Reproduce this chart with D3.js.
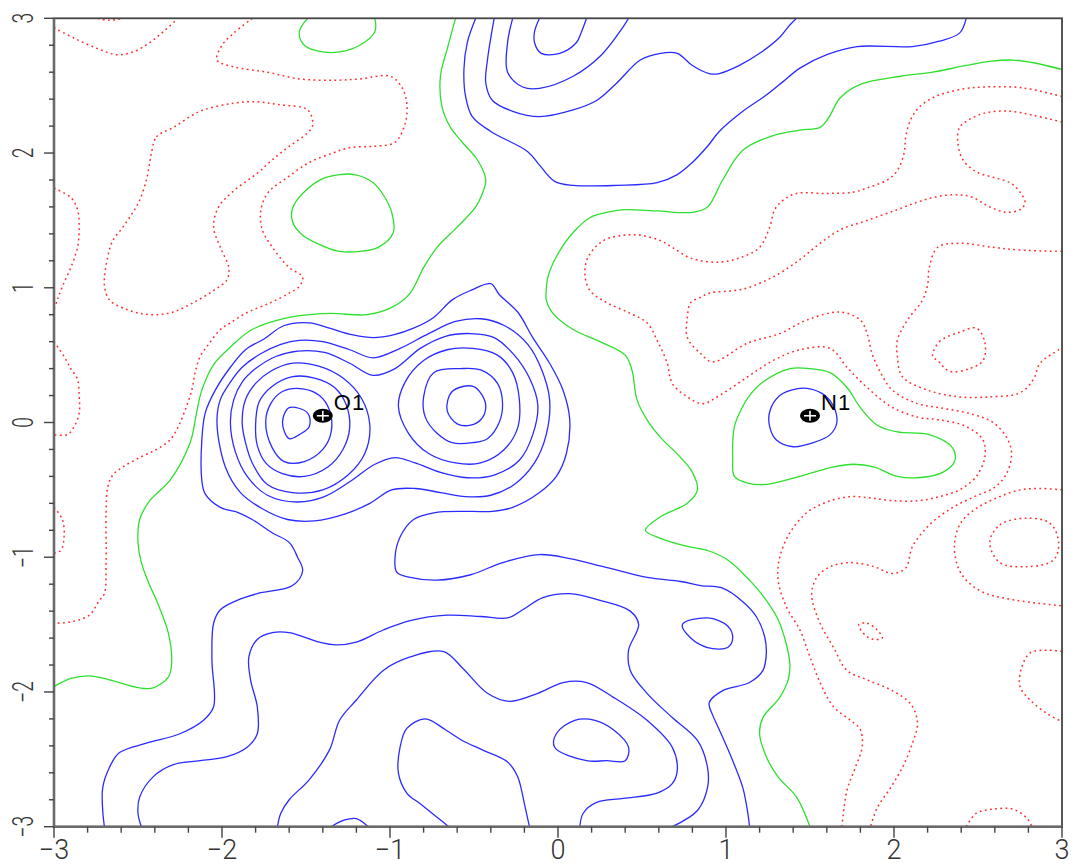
<!DOCTYPE html>
<html>
<head>
<meta charset="utf-8">
<script src="https://cdn.jsdelivr.net/npm/d3@7"></script>
<style>
  html, body { margin: 0; padding: 0; background: #fff; }
  svg { display: block; }
  .pos  { fill: none; stroke: #2b2bff; stroke-width: 1.3; }
  .zero { fill: none; stroke: #2ee02e; stroke-width: 1.3; }
  .neg  { fill: none; stroke: #ff2a2a; stroke-width: 1.5; stroke-dasharray: 1.8 3.4; }
  .tick { stroke: #444; stroke-width: 1.4; }
  .ticklabel { font-family: Roboto, "Liberation Sans", Arial, sans-serif; font-weight: 300; font-size: 27px; fill: #333; }
  .ylabel { font-size: 29px; }
  .atomlabel { font-family: "Liberation Sans", Arial, sans-serif; font-size: 22px; fill: #000; letter-spacing: 1px; }
</style>
</head>
<body>
<svg id="chart" width="1074" height="866"></svg>
<script>
// Difference-density map around O1 and N1 (axes in Å).
// Each contour is a list of [x, y] points; loops are closed, the others end on the frame.

// Positive density (solid blue)
const positiveOpen = [
  [[-0.11,3.0],[-0.14,2.90],[-0.14,2.82],[-0.10,2.74],[0.01,2.74],[0.11,2.82],[0.14,2.90],[0.17,3.0]],
  [[-0.27,3.0],[-0.30,2.82],[-0.30,2.60],[-0.21,2.49],[-0.11,2.48],[0.09,2.57],[0.26,2.73],[0.39,2.94],[0.42,3.0]],
  [[-0.38,3.0],[-0.42,2.69],[-0.43,2.52],[-0.39,2.39],[-0.27,2.31],[-0.11,2.27],[0.09,2.32],[0.23,2.39],[0.35,2.52],[0.49,2.69],[0.61,2.74],[0.71,2.74],[0.80,2.65],[0.90,2.59],[0.96,2.59],[1.08,2.65],[1.20,2.74],[1.32,2.86],[1.38,2.95],[1.42,3.0]],
  [[-0.49,3.0],[-0.54,2.82],[-0.56,2.62],[-0.55,2.42],[-0.51,2.27],[-0.40,2.16],[-0.18,2.01],[-0.11,1.91],[-0.02,1.79],[0.09,1.76],[0.35,1.76],[0.59,1.78],[0.71,1.84],[0.80,1.93],[0.89,2.05],[0.96,2.16],[1.10,2.31],[1.24,2.43],[1.34,2.53],[1.44,2.63],[1.60,2.73],[1.78,2.79],[2.11,2.79],[2.27,2.83],[2.39,2.89],[2.43,3.0]],
  [[-2.70,-3.0],[-2.71,-2.88],[-2.71,-2.71],[-2.67,-2.56],[-2.61,-2.45],[-2.45,-2.38],[-2.25,-2.31],[-2.11,-2.21],[-2.05,-2.11],[-2.06,-1.76],[-2.05,-1.49],[-2.01,-1.39],[-1.91,-1.32],[-1.79,-1.27],[-1.58,-1.21],[-1.52,-1.10],[-1.55,-1.0],[-1.60,-0.89],[-1.70,-0.82],[-1.82,-0.72],[-1.90,-0.67],[-2.01,-0.63],[-2.10,-0.53],[-2.12,-0.43],[-2.12,-0.13],[-2.10,0.07],[-2.04,0.24],[-1.95,0.41],[-1.86,0.54],[-1.75,0.62],[-1.63,0.72],[-1.48,0.74],[-1.36,0.70],[-1.22,0.65],[-1.10,0.63],[-0.98,0.65],[-0.86,0.70],[-0.74,0.78],[-0.63,0.91],[-0.52,0.98],[-0.40,1.03],[-0.35,0.95],[-0.24,0.82],[-0.15,0.63],[-0.05,0.44],[0.03,0.24],[0.07,0.02],[0.05,-0.23],[-0.01,-0.40],[-0.11,-0.52],[-0.27,-0.63],[-0.39,-0.66],[-0.52,-0.66],[-0.74,-0.67],[-0.86,-0.72],[-0.94,-0.85],[-0.97,-1.0],[-0.96,-1.11],[-0.88,-1.15],[-0.72,-1.17],[-0.52,-1.13],[-0.33,-1.04],[-0.11,-0.98],[0.07,-1.01],[0.27,-1.07],[0.53,-1.15],[0.73,-1.18],[0.85,-1.21],[0.98,-1.23],[1.10,-1.33],[1.18,-1.44],[1.23,-1.59],[1.24,-1.71],[1.22,-1.84],[1.14,-1.93],[0.98,-1.99],[0.90,-2.08],[0.92,-2.17],[0.96,-2.28],[1.04,-2.51],[1.10,-2.71],[1.13,-2.90],[1.14,-3.0]],
  [[-2.48,-3.0],[-2.50,-2.90],[-2.49,-2.78],[-2.41,-2.63],[-2.29,-2.54],[-2.13,-2.51],[-1.97,-2.48],[-1.85,-2.41],[-1.79,-2.31],[-1.79,-2.11],[-1.83,-1.91],[-1.84,-1.74],[-1.79,-1.61],[-1.70,-1.56],[-1.60,-1.56],[-1.42,-1.63],[-1.32,-1.65],[-1.20,-1.63],[-1.04,-1.54],[-0.88,-1.47],[-0.66,-1.43],[-0.46,-1.44],[-0.30,-1.45],[-0.21,-1.39],[-0.09,-1.30],[0.07,-1.27],[0.25,-1.32],[0.43,-1.40],[0.48,-1.50],[0.42,-1.69],[0.43,-1.84],[0.53,-2.01],[0.68,-2.19],[0.83,-2.36],[0.89,-2.56],[0.89,-2.71],[0.83,-2.88],[0.68,-3.0]],
  [[-1.67,-3.0],[-1.65,-2.90],[-1.60,-2.80],[-1.48,-2.65],[-1.36,-2.43],[-1.30,-2.21],[-1.20,-2.06],[-1.04,-1.84],[-0.88,-1.74],[-0.68,-1.70],[-0.57,-1.82],[-0.42,-2.01],[-0.29,-2.07],[-0.12,-2.01],[0.03,-1.93],[0.17,-1.93],[0.33,-2.04],[0.53,-2.21],[0.68,-2.41],[0.71,-2.58],[0.68,-2.68],[0.59,-2.75],[0.39,-2.79],[0.23,-2.82],[0.15,-2.90],[0.13,-3.0]],
  [[-1.35,-3.0],[-1.27,-2.95],[-1.20,-2.94],[-1.13,-3.0]],
  [[-0.65,-3.0],[-0.72,-2.93],[-0.82,-2.83],[-0.90,-2.75],[-0.95,-2.60],[-0.94,-2.41],[-0.90,-2.27],[-0.79,-2.20],[-0.67,-2.28],[-0.57,-2.36],[-0.45,-2.43],[-0.30,-2.52],[-0.24,-2.63],[-0.20,-2.83],[-0.17,-3.0]]
];
const positiveLoops = [
  // shells enclosing both peaks next to O1
  [[-2.03,0.0],[-2.01,0.17],[-1.95,0.30],[-1.88,0.41],[-1.77,0.51],[-1.65,0.58],[-1.54,0.61],[-1.40,0.60],[-1.24,0.54],[-1.10,0.48],[-0.94,0.55],[-0.77,0.66],[-0.61,0.75],[-0.46,0.77],[-0.32,0.72],[-0.18,0.58],[-0.10,0.40],[-0.05,0.17],[-0.07,-0.09],[-0.14,-0.30],[-0.26,-0.46],[-0.40,-0.54],[-0.55,-0.55],[-0.70,-0.52],[-0.85,-0.49],[-0.99,-0.50],[-1.12,-0.60],[-1.27,-0.68],[-1.45,-0.73],[-1.61,-0.72],[-1.76,-0.64],[-1.89,-0.52],[-1.98,-0.33]],
  [[-1.95,0.0],[-1.93,0.17],[-1.88,0.30],[-1.80,0.40],[-1.68,0.49],[-1.55,0.53],[-1.39,0.52],[-1.24,0.44],[-1.10,0.35],[-0.97,0.40],[-0.82,0.55],[-0.67,0.64],[-0.52,0.66],[-0.38,0.63],[-0.26,0.50],[-0.17,0.33],[-0.12,0.13],[-0.15,-0.09],[-0.23,-0.28],[-0.38,-0.39],[-0.54,-0.41],[-0.70,-0.37],[-0.85,-0.30],[-0.97,-0.26],[-1.09,-0.31],[-1.24,-0.44],[-1.39,-0.55],[-1.55,-0.59],[-1.73,-0.54],[-1.85,-0.40],[-1.92,-0.22]],
  // O1 peak
  [[-1.88,0.0],[-1.86,0.17],[-1.80,0.29],[-1.71,0.38],[-1.58,0.44],[-1.43,0.42],[-1.28,0.33],[-1.17,0.18],[-1.12,-0.02],[-1.15,-0.23],[-1.25,-0.39],[-1.40,-0.50],[-1.58,-0.52],[-1.73,-0.46],[-1.82,-0.30],[-1.86,-0.15]],
  [[-1.80,-0.02],[-1.78,0.15],[-1.71,0.26],[-1.58,0.34],[-1.45,0.33],[-1.33,0.26],[-1.26,0.13],[-1.24,-0.04],[-1.28,-0.20],[-1.37,-0.33],[-1.51,-0.40],[-1.64,-0.38],[-1.74,-0.30],[-1.79,-0.17]],
  [[-1.74,0.0],[-1.71,0.14],[-1.64,0.23],[-1.52,0.25],[-1.42,0.20],[-1.36,0.09],[-1.35,-0.07],[-1.40,-0.20],[-1.51,-0.29],[-1.63,-0.29],[-1.70,-0.19]],
  [[-1.64,0.0],[-1.60,0.11],[-1.49,0.07],[-1.48,-0.03],[-1.54,-0.09],[-1.60,-0.12]],
  // second peak
  [[-0.95,0.12],[-0.91,0.30],[-0.80,0.46],[-0.66,0.54],[-0.51,0.55],[-0.36,0.50],[-0.27,0.37],[-0.23,0.17],[-0.24,-0.04],[-0.32,-0.20],[-0.46,-0.30],[-0.61,-0.30],[-0.77,-0.23],[-0.89,-0.08]],
  [[-0.80,0.19],[-0.74,0.37],[-0.58,0.40],[-0.46,0.39],[-0.36,0.29],[-0.33,0.14],[-0.35,0.0],[-0.42,-0.12],[-0.51,-0.15],[-0.63,-0.15],[-0.72,-0.08],[-0.79,0.04]],
  [[-0.66,0.09],[-0.63,0.23],[-0.51,0.27],[-0.45,0.20],[-0.43,0.11],[-0.46,0.02],[-0.52,-0.02],[-0.60,-0.01]],
  // N1
  [[1.26,0.08],[1.32,0.20],[1.42,0.25],[1.50,0.25],[1.59,0.20],[1.64,0.12],[1.66,0.0],[1.62,-0.09],[1.52,-0.15],[1.40,-0.18],[1.30,-0.13],[1.26,-0.03]],
  // small islands below
  [[-0.01,-2.31],[0.10,-2.21],[0.22,-2.21],[0.33,-2.28],[0.42,-2.41],[0.40,-2.51],[0.29,-2.51],[0.17,-2.51],[-0.02,-2.41]],
  [[0.74,-1.50],[0.89,-1.45],[1.01,-1.51],[1.04,-1.60],[1.01,-1.67],[0.89,-1.67],[0.79,-1.60]]
];

// Zero level (solid green)
const zeroOpen = [
  [[-1.49,3.0],[-1.54,2.90],[-1.51,2.80],[-1.40,2.75],[-1.30,2.75],[-1.18,2.80],[-1.09,2.90],[-1.09,3.0]],
  [[-0.61,3.0],[-0.66,2.77],[-0.70,2.57],[-0.69,2.34],[-0.64,2.19],[-0.57,2.08],[-0.48,1.95],[-0.43,1.80],[-0.45,1.70],[-0.49,1.60],[-0.60,1.45],[-0.72,1.30],[-0.80,1.15],[-0.88,0.96],[-0.98,0.86],[-1.14,0.80],[-1.36,0.81],[-1.60,0.78],[-1.82,0.69],[-1.95,0.56],[-2.05,0.43],[-2.12,0.24],[-2.15,0.08],[-2.19,-0.15],[-2.31,-0.43],[-2.43,-0.58],[-2.49,-0.72],[-2.50,-0.89],[-2.48,-1.04],[-2.43,-1.21],[-2.39,-1.32],[-2.32,-1.56],[-2.30,-1.79],[-2.32,-1.89],[-2.41,-1.97],[-2.49,-1.97],[-2.67,-1.91],[-2.79,-1.88],[-2.90,-1.90],[-3.0,-1.96]],
  [[3.0,2.62],[2.83,2.67],[2.71,2.69],[2.57,2.68],[2.43,2.65],[2.23,2.60],[2.04,2.57],[1.80,2.51],[1.68,2.41],[1.61,2.26],[1.56,2.19],[1.44,2.17],[1.28,2.13],[1.10,2.02],[0.98,1.80],[0.89,1.60],[0.80,1.56],[0.59,1.57],[0.39,1.58],[0.29,1.56],[0.19,1.52],[0.09,1.41],[-0.01,1.23],[-0.06,1.08],[-0.07,0.98],[-0.07,0.91],[-0.03,0.81],[0.09,0.69],[0.25,0.60],[0.40,0.50],[0.44,0.39],[0.47,0.17],[0.53,0.02],[0.61,-0.11],[0.73,-0.26],[0.80,-0.37],[0.83,-0.50],[0.77,-0.60],[0.61,-0.70],[0.52,-0.80],[0.61,-0.86],[0.77,-0.92],[0.89,-0.95],[1.01,-1.02],[1.14,-1.17],[1.24,-1.32],[1.32,-1.49],[1.38,-1.79],[1.37,-1.91],[1.32,-2.04],[1.22,-2.19],[1.20,-2.31],[1.24,-2.48],[1.31,-2.63],[1.42,-2.78],[1.50,-3.0]]
];
const zeroLoops = [
  [[-1.30,1.84],[-1.21,1.84],[-1.10,1.78],[-1.03,1.67],[-0.99,1.56],[-0.98,1.41],[-1.07,1.30],[-1.18,1.27],[-1.30,1.27],[-1.38,1.30],[-1.52,1.39],[-1.58,1.49],[-1.58,1.59],[-1.52,1.70],[-1.40,1.81]],
  [[1.22,0.30],[1.38,0.40],[1.50,0.40],[1.62,0.37],[1.72,0.26],[1.80,0.11],[1.90,-0.02],[2.02,-0.07],[2.21,-0.09],[2.35,-0.19],[2.36,-0.29],[2.29,-0.37],[2.14,-0.41],[2.02,-0.40],[1.88,-0.33],[1.76,-0.31],[1.64,-0.33],[1.44,-0.40],[1.24,-0.46],[1.13,-0.45],[1.05,-0.40],[1.04,-0.28],[1.05,-0.03],[1.10,0.12],[1.14,0.20]]
];

// Negative density (dotted red)
const negativeOpen = [
  [[-3.0,2.93],[-2.86,2.84],[-2.73,2.77],[-2.63,2.73],[-2.53,2.75],[-2.43,2.82],[-2.35,2.90],[-2.27,2.99]],
  [[-2.74,3.0],[-2.67,2.985],[-2.59,3.0]],
  [[-1.82,3.0],[-1.93,2.89],[-2.0,2.80],[-2.03,2.69],[-1.93,2.64],[-1.73,2.60],[-1.54,2.55],[-1.34,2.54],[-1.18,2.55],[-1.0,2.57],[-0.93,2.49],[-0.90,2.37],[-0.91,2.22],[-0.97,2.08],[-1.10,2.05],[-1.24,2.04],[-1.34,2.0],[-1.48,1.93],[-1.61,1.82],[-1.73,1.70],[-1.77,1.56],[-1.76,1.43],[-1.70,1.30],[-1.60,1.15],[-1.52,1.08],[-1.54,1.01],[-1.60,0.96],[-1.71,0.89],[-1.86,0.81],[-1.95,0.74],[-2.01,0.69],[-2.08,0.58],[-2.13,0.49],[-2.16,0.37],[-2.18,0.24],[-2.22,0.09],[-2.26,-0.03],[-2.31,-0.13],[-2.39,-0.20],[-2.49,-0.26],[-2.59,-0.33],[-2.65,-0.39],[-2.68,-0.48],[-2.69,-0.67],[-2.69,-1.04],[-2.70,-1.27],[-2.73,-1.32],[-2.79,-1.43],[-2.90,-1.48],[-3.0,-1.49]],
  [[-3.0,1.74],[-2.90,1.67],[-2.86,1.58],[-2.85,1.45],[-2.86,1.30],[-2.90,1.15],[-2.95,1.01],[-2.98,0.91],[-3.0,0.84]],
  [[-3.0,0.60],[-2.94,0.49],[-2.90,0.40],[-2.86,0.32],[-2.85,0.19],[-2.85,0.07],[-2.88,-0.03],[-2.92,-0.09],[-3.0,-0.09]],
  [[-3.0,-0.63],[-2.95,-0.72],[-2.94,-0.85],[-2.96,-0.95],[-3.0,-0.97]],
  [[3.0,2.42],[2.83,2.47],[2.71,2.49],[2.53,2.49],[2.43,2.48],[2.32,2.45],[2.23,2.41],[2.15,2.34],[2.10,2.25],[2.07,2.12],[2.06,2.0],[2.02,1.87],[1.96,1.80],[1.86,1.75],[1.76,1.71],[1.60,1.70],[1.42,1.70],[1.34,1.65],[1.29,1.58],[1.26,1.45],[1.20,1.30],[1.10,1.23],[0.96,1.19],[0.79,1.22],[0.68,1.30],[0.61,1.35],[0.49,1.39],[0.39,1.39],[0.27,1.35],[0.18,1.23],[0.16,1.10],[0.19,0.98],[0.29,0.89],[0.43,0.81],[0.53,0.74],[0.59,0.61],[0.65,0.44],[0.68,0.29],[0.77,0.19],[0.86,0.14],[0.96,0.20],[1.13,0.34],[1.28,0.46],[1.44,0.54],[1.62,0.55],[1.72,0.41],[1.84,0.26],[1.98,0.12],[2.14,0.04],[2.27,0.02],[2.43,-0.03],[2.53,-0.13],[2.54,-0.26],[2.49,-0.40],[2.39,-0.50],[2.27,-0.55],[2.15,-0.58],[1.99,-0.58],[1.86,-0.56],[1.74,-0.55],[1.60,-0.59],[1.48,-0.67],[1.38,-0.82],[1.32,-1.0],[1.31,-1.17],[1.36,-1.37],[1.44,-1.54],[1.50,-1.74],[1.56,-1.93],[1.64,-2.11],[1.74,-2.21],[1.80,-2.28],[1.81,-2.41],[1.77,-2.56],[1.72,-2.73],[1.69,-3.0]],
  [[3.0,2.23],[2.83,2.28],[2.69,2.31],[2.55,2.30],[2.45,2.25],[2.39,2.19],[2.38,2.08],[2.41,1.95],[2.49,1.86],[2.59,1.82],[2.69,1.78],[2.75,1.71],[2.78,1.63],[2.75,1.58],[2.67,1.56],[2.57,1.60],[2.47,1.67],[2.39,1.69],[2.27,1.68],[2.15,1.64],[2.02,1.58],[1.84,1.50],[1.68,1.43],[1.56,1.33],[1.44,1.21],[1.28,1.08],[1.10,0.99],[0.90,0.96],[0.85,0.93],[0.79,0.89],[0.77,0.78],[0.77,0.63],[0.85,0.51],[0.92,0.45],[1.13,0.59],[1.32,0.66],[1.48,0.76],[1.68,0.82],[1.80,0.76],[1.84,0.66],[1.87,0.51],[1.92,0.37],[1.99,0.24],[2.14,0.14],[2.27,0.11],[2.47,0.06],[2.59,0.0],[2.67,-0.11],[2.70,-0.23],[2.67,-0.38],[2.60,-0.48],[2.48,-0.55],[2.35,-0.63],[2.21,-0.76],[2.11,-0.92],[2.07,-1.08],[1.99,-1.12],[1.88,-1.07],[1.74,-1.04],[1.62,-1.07],[1.54,-1.15],[1.51,-1.28],[1.56,-1.49],[1.64,-1.67],[1.72,-1.84],[1.84,-1.91],[1.99,-1.99],[2.10,-2.09],[2.14,-2.23],[2.11,-2.38],[2.05,-2.56],[1.98,-2.71],[1.90,-2.86],[1.86,-3.0]],
  [[3.0,1.27],[2.75,1.28],[2.59,1.30],[2.39,1.33],[2.26,1.30],[2.21,1.15],[2.20,1.02],[2.17,0.91],[2.08,0.76],[2.02,0.61],[2.02,0.49],[2.05,0.34],[2.20,0.24],[2.39,0.19],[2.57,0.19],[2.75,0.22],[2.83,0.32],[2.87,0.44],[2.98,0.54],[3.0,0.56]],
  [[3.0,-0.50],[2.87,-0.49],[2.75,-0.50],[2.63,-0.55],[2.50,-0.63],[2.40,-0.74],[2.36,-0.90],[2.38,-1.07],[2.43,-1.17],[2.53,-1.26],[2.73,-1.32],[3.0,-1.36]],
  [[3.0,-1.70],[2.91,-1.69],[2.81,-1.71],[2.76,-1.82],[2.75,-1.96],[2.81,-2.06],[2.91,-2.16],[3.0,-2.22]],
  [[2.43,-3.0],[2.49,-2.90],[2.59,-2.87],[2.71,-2.87],[2.80,-2.95],[2.82,-3.0]]
];
const negativeLoops = [
  [[-2.42,2.0],[-2.39,2.12],[-2.29,2.19],[-2.13,2.31],[-1.93,2.37],[-1.79,2.38],[-1.67,2.36],[-1.49,2.32],[-1.46,2.21],[-1.49,2.15],[-1.60,2.05],[-1.70,1.95],[-1.79,1.85],[-1.93,1.72],[-2.02,1.60],[-2.05,1.45],[-2.01,1.30],[-1.96,1.15],[-1.97,1.06],[-2.05,0.98],[-2.17,0.89],[-2.29,0.82],[-2.39,0.80],[-2.49,0.81],[-2.59,0.85],[-2.67,0.91],[-2.70,1.02],[-2.68,1.23],[-2.65,1.35],[-2.59,1.45],[-2.53,1.56],[-2.49,1.65],[-2.45,1.80],[-2.43,1.93]],
  [[2.23,0.49],[2.27,0.60],[2.39,0.67],[2.49,0.70],[2.54,0.60],[2.53,0.46],[2.45,0.40],[2.33,0.38],[2.26,0.46]],
  [[2.57,-0.89],[2.63,-0.76],[2.79,-0.71],[2.93,-0.75],[2.98,-0.89],[2.95,-1.02],[2.79,-1.07],[2.63,-1.04]],
  [[1.79,-1.50],[1.84,-1.49],[1.90,-1.54],[1.93,-1.60],[1.88,-1.61],[1.83,-1.58]]
];

// Atom positions
const atoms = [
  { label: "O1", x: -1.40, y: 0.05 },
  { label: "N1", x: 1.50, y: 0.05 }
];

// Axis ticks
const xTicks = [-3, -2, -1, 0, 1, 2, 3];
const yTicks = [-3, -2, -1, 0, 1, 2, 3];
const minorStep = 0.2;

// ---------------------------------------------------------------
const margin = { left: 54, right: 1062, top: 18.3, bottom: 826.7 };
const x = d3.scaleLinear().domain([-3, 3]).range([margin.left, margin.right]);
const y = d3.scaleLinear().domain([-3, 3]).range([margin.bottom, margin.top]);

const svg = d3.select("#chart");

svg.append("defs").append("clipPath").attr("id", "plotClip")
  .append("rect")
  .attr("x", margin.left).attr("y", margin.top)
  .attr("width", margin.right - margin.left)
  .attr("height", margin.bottom - margin.top);

const openPath = d3.line().x(d => x(d[0])).y(d => y(d[1]))
  .curve(d3.curveCatmullRom.alpha(0.5));
const loopPath = d3.line().x(d => x(d[0])).y(d => y(d[1]))
  .curve(d3.curveCatmullRomClosed.alpha(0.5));

const contours = svg.append("g").attr("clip-path", "url(#plotClip)");

function drawLevel(open, loops, cls) {
  const g = contours.append("g").attr("class", cls);
  g.selectAll("path.open").data(open).join("path")
    .attr("class", "open").attr("d", openPath);
  g.selectAll("path.loop").data(loops).join("path")
    .attr("class", "loop").attr("d", loopPath);
}
drawLevel(negativeOpen, negativeLoops, "neg");
drawLevel(zeroOpen, zeroLoops, "zero");
drawLevel(positiveOpen, positiveLoops, "pos");

// Frame
svg.append("rect")
  .attr("x", margin.left).attr("y", margin.top)
  .attr("width", margin.right - margin.left)
  .attr("height", margin.bottom - margin.top)
  .attr("fill", "none").attr("stroke", "#444").attr("stroke-width", 1.8);
svg.append("line")
  .attr("x1", margin.left).attr("x2", margin.left)
  .attr("y1", margin.top).attr("y2", margin.bottom + 1)
  .attr("stroke", "#6a6a6a").attr("stroke-width", 2.6);
svg.append("line")
  .attr("x1", margin.left - 1).attr("x2", margin.right + 1)
  .attr("y1", margin.bottom).attr("y2", margin.bottom)
  .attr("stroke", "#6a6a6a").attr("stroke-width", 2.6);

// Ticks every 0.2, longer at whole units
const allTicks = d3.range(-3, 3 + 1e-9, minorStep);
const isMajor = t => Math.abs(t - Math.round(t)) < 1e-6;
const ticks = svg.append("g");
ticks.selectAll("line.xt").data(allTicks).join("line")
  .attr("class", "tick")
  .attr("x1", d => x(d)).attr("x2", d => x(d))
  .attr("y1", margin.bottom).attr("y2", d => margin.bottom + (isMajor(d) ? 11 : 6));
ticks.selectAll("line.yt").data(allTicks).join("line")
  .attr("class", "tick")
  .attr("y1", d => y(d)).attr("y2", d => y(d))
  .attr("x1", d => margin.left - (isMajor(d) ? 10 : 5)).attr("x2", margin.left);

const fmt = d3.format("d");
svg.append("g").selectAll("text").data(xTicks).join("text")
  .attr("class", "ticklabel")
  .attr("x", d => x(d)).attr("y", 859)
  .attr("text-anchor", "middle")
  .text(d => fmt(d));
svg.append("g").selectAll("text").data(yTicks).join("text")
  .attr("class", "ticklabel ylabel")
  .attr("text-anchor", "middle")
  .attr("transform", d => `translate(33,${y(d)}) rotate(-90) scale(0.66,1)`)
  .text(d => fmt(d));

// Atom markers
const atomG = svg.append("g").selectAll("g").data(atoms).join("g")
  .attr("transform", d => `translate(${x(d.x)},${y(d.y)})`);
atomG.append("ellipse").attr("rx", 10).attr("ry", 7).attr("fill", "#000");
atomG.append("line").attr("x1", -6).attr("x2", 6).attr("y1", 0).attr("y2", 0)
  .attr("stroke", "#fff").attr("stroke-width", 1.6);
atomG.append("line").attr("x1", 0).attr("x2", 0).attr("y1", -5).attr("y2", 5)
  .attr("stroke", "#fff").attr("stroke-width", 1.6);
atomG.append("text").attr("class", "atomlabel")
  .attr("x", 11).attr("y", -6)
  .text(d => d.label);
</script>
</body>
</html>
